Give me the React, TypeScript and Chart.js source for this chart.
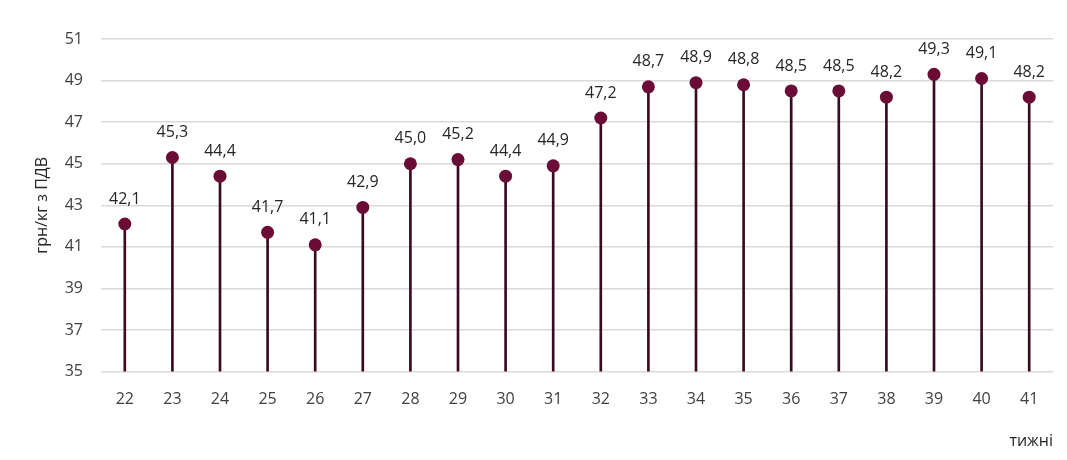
import { useEffect, useRef } from 'react';
import { Chart, registerables } from 'chart.js';
import type { Plugin } from 'chart.js';

Chart.register(...registerables);

const weeks = ['22', '23', '24', '25', '26', '27', '28', '29', '30', '31',
               '32', '33', '34', '35', '36', '37', '38', '39', '40', '41'];
const prices = [42.1, 45.3, 44.4, 41.7, 41.1, 42.9, 45.0, 45.2, 44.4, 44.9,
                47.2, 48.7, 48.9, 48.8, 48.5, 48.5, 48.2, 49.3, 49.1, 48.2];
const axisMin = 35;
const axisMax = 51;

const FONT = "'Open Sans', sans-serif";

// value labels above each marker, decimal comma
const valueLabels: Plugin = {
  id: 'valueLabels',
  afterDatasetsDraw(chart) {
    const meta = chart.getDatasetMeta(1);
    const ctx = chart.ctx;
    ctx.save();
    ctx.font = `16px ${FONT}`;
    ctx.fillStyle = '#262626';
    ctx.textAlign = 'center';
    ctx.textBaseline = 'middle';
    meta.data.forEach((pt, i) => {
      ctx.fillText(prices[i].toFixed(1).replace('.', ','), pt.x, pt.y - 25);
    });
    ctx.restore();
  },
};

export default function App() {
  const canvasRef = useRef<HTMLCanvasElement>(null);

  useEffect(() => {
    if (!canvasRef.current) return;
    const chart = new Chart(canvasRef.current, {
      type: 'bar',
      data: {
        labels: weeks,
        datasets: [
          {
            type: 'bar',
            data: prices.map(v => [axisMin, v]) as any,
            backgroundColor: '#3a0a20',
            barThickness: 2,
            order: 2,
          },
          {
            type: 'line',
            data: prices,
            showLine: false,
            pointRadius: 6.5,
            pointBackgroundColor: '#6b0c37',
            pointBorderWidth: 0,
            order: 1,
          },
        ],
      },
      options: {
        responsive: true,
        maintainAspectRatio: false,
        animation: false,
        layout: { padding: { left: 33, right: 14, top: 39, bottom: 9 } },
        plugins: {
          legend: { display: false },
          tooltip: { enabled: false },
        },
        scales: {
          x: {
            offset: true,
            grid: { display: false },
            border: { display: false },
            ticks: { color: '#404040', font: { family: FONT, size: 16 }, padding: 10 },
            title: {
              display: true,
              text: 'тижні',
              align: 'end',
              color: '#262626',
              font: { family: FONT, size: 16 },
              padding: { top: 13, bottom: 0 },
            },
          },
          y: {
            min: axisMin,
            max: axisMax,
            afterFit: (scale) => { scale.width = 68; },
            grid: { color: '#d9d9d9', lineWidth: 1.5, drawTicks: false },
            border: { display: false },
            ticks: {
              stepSize: 2,
              color: '#404040',
              font: { family: FONT, size: 16 },
              padding: 18,
            },
            title: {
              display: true,
              text: 'грн/кг з ПДВ',
              color: '#262626',
              font: { family: FONT, size: 16 },
              padding: 0,
            },
          },
        },
      },
      plugins: [valueLabels],
    });
    return () => chart.destroy();
  }, []);

  return (
    <div style={{ position: 'fixed', left: 0, top: 0, width: 1067, height: 460, background: '#fff' }}>
      <canvas ref={canvasRef} />
    </div>
  );
}
